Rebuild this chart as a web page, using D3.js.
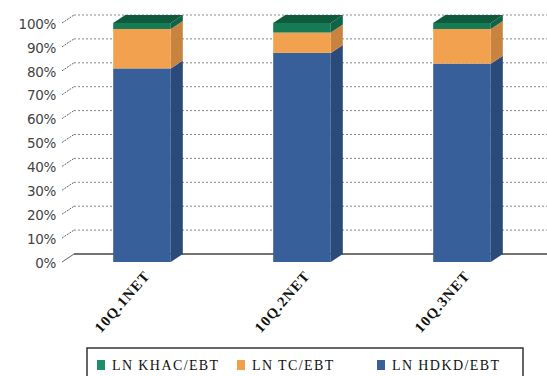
<!DOCTYPE html>
<html><head><meta charset="utf-8">
<script src="https://cdn.jsdelivr.net/npm/d3@7"></script>
<style>body{margin:0;background:#fff;}svg{display:block;}</style>
</head><body>
<svg id="c" width="547" height="376"></svg>
<script>
const categories = ["10Q.1NET", "10Q.2NET", "10Q.3NET"];
const seriesNames = ["LN HDKD/EBT", "LN TC/EBT", "LN KHAC/EBT"];
const hdkd = [81, 87.5, 83];
const tc = [16.5, 8.5, 14.5];
const khac = [2.5, 4, 2.5];
const yTicks = [0,10,20,30,40,50,60,70,80,90,100];
const legendOrder = ["LN KHAC/EBT", "LN TC/EBT", "LN HDKD/EBT"];

const colors = {
  "LN HDKD/EBT": {front:"#37609a", side:"#2a4b7a", top:"#456fa8", legend:"#3a5f95"},
  "LN TC/EBT": {front:"#f2a14f", side:"#c8843f", top:"#f5b26a", legend:"#f0a048"},
  "LN KHAC/EBT": {front:"#167a55", side:"#0f6445", top:"#0d5a3c", legend:"#1f8f6a"}
};

const svg = d3.select("#c");
const DX = 12, DY = -8;
const y = d3.scaleLinear().domain([0,100]).range([262, 23]);
const x = d3.scaleBand().domain(categories).range([62, 542]).padding(0);
const bw = x.bandwidth()*0.36;

const grid = svg.append("g");
yTicks.forEach(v => {
  const yy = y(v) + DY;
  if (v === 0) {
    grid.append("line").attr("x1", 62+DX).attr("x2", 547).attr("y1", yy).attr("y2", yy)
      .attr("stroke", "#444").attr("stroke-width", 1.6);
  } else {
    grid.append("line").attr("x1", 62+DX).attr("x2", 547).attr("y1", yy).attr("y2", yy)
      .attr("stroke", "#888").attr("stroke-width", 1).attr("stroke-dasharray", "2,2");
  }
  grid.append("line").attr("x1", 62).attr("y1", y(v)).attr("x2", 62+DX).attr("y2", yy)
    .attr("stroke", "#666").attr("stroke-width", 1).attr("stroke-dasharray", v===0?null:"2,1");
  grid.append("text").attr("x", 56).attr("y", y(v)+1).attr("dy", "0.35em")
    .attr("text-anchor", "end").attr("font-family", "DejaVu Sans").attr("font-size", 13.5)
    .attr("letter-spacing", -0.3).attr("fill", "#444").text(v + "%");
});

const data = categories.map((c,i) => ({cat:c, vals:[hdkd[i], tc[i], khac[i]]}));
const bars = svg.append("g");
data.forEach(d => {
  const x0 = x(d.cat) + (x.bandwidth()-bw)/2;
  let base = 0;
  d.vals.forEach((v, si) => {
    const name = seriesNames[si];
    const col = colors[name];
    const yb = y(base), yt = y(base+v);
    bars.append("path").attr("d",
      `M${x0+bw},${yb} L${x0+bw+DX},${yb+DY} L${x0+bw+DX},${yt+DY} L${x0+bw},${yt} Z`)
      .attr("fill", col.side);
    bars.append("rect").attr("x", x0).attr("y", yt).attr("width", bw).attr("height", yb-yt)
      .attr("fill", col.front);
    if (si === d.vals.length-1) {
      bars.append("path").attr("d",
        `M${x0},${yt} L${x0+DX},${yt+DY} L${x0+bw+DX},${yt+DY} L${x0+bw},${yt} Z`)
        .attr("fill", col.top);
    }
    base += v;
  });
  const cx = x(d.cat) + x.bandwidth()/2 + 9;
  svg.append("text").attr("transform", `translate(${cx},${276}) rotate(-49)`)
    .attr("text-anchor", "end").attr("font-family", "Liberation Serif").attr("font-size", 14.5)
    .attr("font-weight", "bold").attr("letter-spacing", 1.2)
    .attr("fill", "#111").text(d.cat);
});

const lg = svg.append("g");
lg.append("rect").attr("x", 87).attr("y", 348).attr("width", 436).attr("height", 40)
  .attr("fill", "none").attr("stroke", "#333").attr("stroke-width", 1.5);
const lx = [97, 237, 377];
legendOrder.forEach((n, i) => {
  lg.append("rect").attr("x", lx[i]).attr("y", 360).attr("width", 8).attr("height", 10)
    .attr("fill", colors[n].legend);
  lg.append("text").attr("x", lx[i]+15).attr("y", 370).attr("font-family", "Liberation Serif")
    .attr("font-size", 14).attr("letter-spacing", 1.4).attr("fill", "#111").text(n);
});
</script>
</body></html>
